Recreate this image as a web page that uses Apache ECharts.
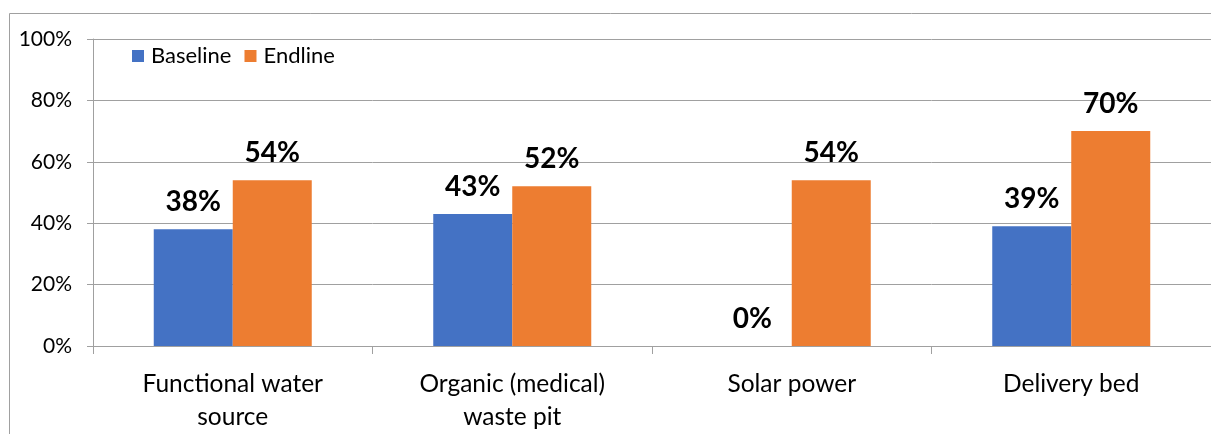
<!DOCTYPE html>
<html>
<head>
<meta charset="utf-8">
<script src="https://cdn.jsdelivr.net/npm/echarts@6/dist/echarts.min.js"></script>
<style>
html,body{margin:0;padding:0;background:#fff;}
#chart{width:1211px;height:434px;}
</style>
</head>
<body>
<div id="chart"></div>
<script>
const categories = ["Functional water\nsource", "Organic (medical)\nwaste pit", "Solar power", "Delivery bed"];
const baseline = [38, 43, 0, 39];
const endline = [54, 52, 54, 70];
const yTicks = [0, 20, 40, 60, 80, 100];

const FONT = 'Lato';
const chart = echarts.init(document.getElementById('chart'), null, {renderer: 'canvas'});
const labelCfg = {
  show: true,
  position: 'top',
  distance: 13,
  formatter: p => p.value + '%',
  fontFamily: FONT,
  fontWeight: 'bold',
  fontSize: 28,
  color: '#000'
};
chart.setOption({
  animation: false,
  backgroundColor: '#fff',
  textStyle: {fontFamily: FONT},
  graphic: [{
    type: 'rect',
    shape: {x: 9.5, y: 13.5, width: 1300, height: 500},
    style: {fill: 'none', stroke: '#a0a0a0', lineWidth: 1},
    silent: true, z: -10
  }],
  legend: {
    left: 127, top: 40,
    itemWidth: 12, itemHeight: 12, itemGap: 13,
    icon: 'rect',
    textStyle: {fontFamily: FONT, fontSize: 22, color: '#000', padding: [0, 0, 0, 2]},
    data: ['Baseline', 'Endline']
  },
  grid: {left: 93, top: 39, width: 1122, height: 311, containLabel: false},
  xAxis: {
    type: 'category',
    data: categories,
    axisLine: {show: true, lineStyle: {color: '#a0a0a0', width: 1}},
    axisTick: {show: true, length: 8, lineStyle: {color: '#a0a0a0'}},
    axisLabel: {fontFamily: FONT, fontSize: 24.5, color: '#000', margin: 22, lineHeight: 33, interval: 0}
  },
  yAxis: {
    type: 'value',
    min: 0, max: 100, interval: 20,
    axisLine: {show: true, lineStyle: {color: '#a0a0a0', width: 1}},
    axisTick: {show: true, length: 6, lineStyle: {color: '#a0a0a0'}},
    splitLine: {show: true, lineStyle: {color: '#a0a0a0', width: 1}},
    axisLabel: {
      fontFamily: FONT, fontSize: 21, color: '#000', margin: 21,
      formatter: v => yTicks.includes(v) ? v + '%' : ''
    }
  },
  series: [
    {name: 'Baseline', type: 'bar', data: baseline, barWidth: 79, barGap: '0%',
     itemStyle: {color: '#4472C4'}, label: labelCfg},
    {name: 'Endline', type: 'bar', data: endline, barWidth: 79, barGap: '0%',
     itemStyle: {color: '#ED7D31'}, label: labelCfg}
  ]
});
</script>
</body>
</html>
